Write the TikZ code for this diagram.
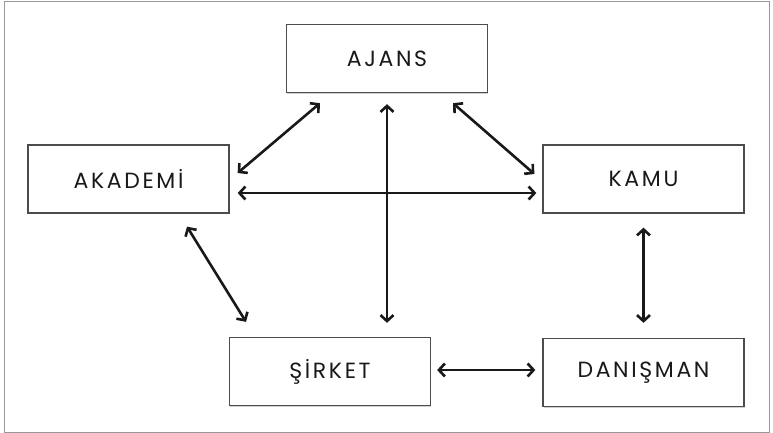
\documentclass[tikz,border=0pt]{standalone}
\usepackage{fontspec}
\setmainfont{Poppins}[LetterSpace=12]
\usetikzlibrary{arrows.meta,shadows}
\begin{document}
\begin{tikzpicture}[x=1pt,y=-1pt,
  box/.style={draw=black!70, line width=1.3pt, fill=white, minimum width=201pt, minimum height=68pt,
    inner sep=0pt, font=\fontsize{22}{26}\selectfont, text=black!90,
    drop shadow={shadow xshift=0.8pt, shadow yshift=-1.4pt, fill=black!30, opacity=0.6}},
  arr/.style={line width=2.6pt, draw=black!90,
    {Straight Barb[length=6pt,width=13pt]}-{Straight Barb[length=6pt,width=13pt]}}]
\useasboundingbox (0,0) rectangle (773,433);
\draw[black!40, line width=1pt] (4,2) rectangle (769,432);
\node[box] (ajans) at (387,58.5) {AJANS};
\node[box] (akademi) at (128.5,179) {AKADEM\.{I}};
\node[box] (kamu) at (643.5,179) {KAMU};
\node[box] (sirket) at (330,371.5) {ŞİRKET};
\node[box] (danisman) at (643.5,372.5) {DANIŞMAN};
\draw[arr] ([xshift=-67pt,yshift=-10pt]ajans.south) -- ([xshift=8pt,yshift=6pt]akademi.east);
\draw[arr] ([xshift=66pt,yshift=-10pt]ajans.south) -- ([xshift=-8pt,yshift=5pt]kamu.west);
\draw[arr] ([xshift=8pt,yshift=-14pt]akademi.east) -- ([xshift=-6pt,yshift=-14pt]kamu.west);
\draw[arr] ([yshift=-11pt]ajans.south) -- ([xshift=57pt,yshift=14pt]sirket.north);
\draw[arr] ([xshift=58.5pt,yshift=-13pt]akademi.south) -- ([xshift=-84pt,yshift=15pt]sirket.north);
\draw[arr] ([yshift=-14pt]kamu.south) -- ([yshift=15pt]danisman.north);
\draw[arr] ([xshift=6pt,yshift=1.5pt]sirket.east) -- ([xshift=-7pt,yshift=2.5pt]danisman.west);
\end{tikzpicture}
\end{document}
